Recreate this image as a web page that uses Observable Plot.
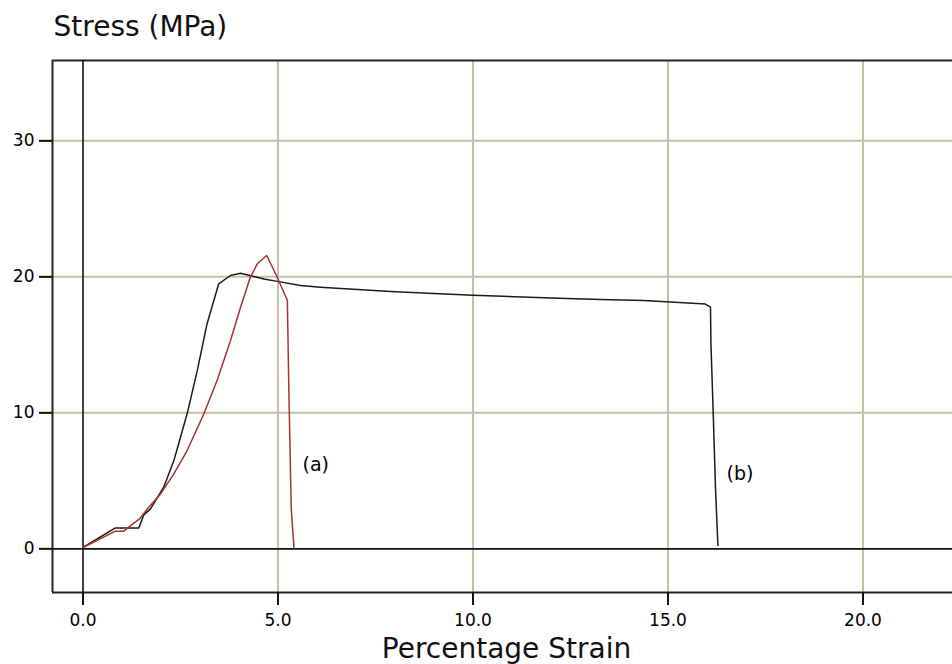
<!DOCTYPE html>
<html>
<head>
<meta charset="utf-8">
<script src="https://cdn.jsdelivr.net/npm/d3@7"></script>
<script src="https://cdn.jsdelivr.net/npm/@observablehq/plot@0.6"></script>
<style>
  html, body { margin: 0; padding: 0; background: #fff; }
  #chart svg { display: block; }
</style>
</head>
<body>
<div id="chart"></div>
<script>
// Curve (a) – red
const strainA = [0, 0.83, 1.05, 1.22, 1.45, 1.65, 1.99, 2.33, 2.67, 3.10, 3.44, 3.78, 4.04, 4.29, 4.47, 4.71, 4.98, 5.24, 5.28, 5.34, 5.41];
const stressA = [0.1, 1.3, 1.3, 1.71, 2.2, 2.94, 4.04, 5.51, 7.23, 9.93, 12.4, 15.3, 17.76, 19.97, 20.96, 21.57, 19.97, 18.26, 11.4, 2.94, 0.05];

// Curve (b) – black
const strainB = [0, 0.83, 1.43, 1.56, 1.73, 2.07, 2.33, 2.67, 2.93, 3.18, 3.48, 3.78, 4.04, 4.64, 5.02, 5.58, 6.09, 8.0, 10.0, 12.0, 13.27, 14.38, 15.4, 15.96, 16.09, 16.1, 16.16, 16.22, 16.28];
const stressB = [0.1, 1.54, 1.54, 2.5, 2.94, 4.53, 6.49, 9.93, 13.1, 16.54, 19.49, 20.1, 20.26, 19.85, 19.65, 19.36, 19.24, 18.9, 18.65, 18.45, 18.33, 18.26, 18.09, 18.0, 17.77, 15.2, 9.93, 4.29, 0.24];

// Curve labels
const labelText = ["(a)", "(b)"];
const labelX = [5.63, 16.5];
const labelY = [6.2, 5.5];

// Ticks / grid
const xTicks = [0, 5, 10, 15, 20];
const yTicks = [0, 10, 20, 30];
const xGrid = [5, 10, 15, 20];
const yGrid = [10, 20, 30];

// Axis extents (plot frame)
const xDomain = [-0.782, 22.295];
const yDomain = [-3.21, 35.91];

const titleText = "Stress (MPa)";
const xLabelText = "Percentage Strain";

const curveA = strainA.map((x, i) => ({x, y: stressA[i]}));
const curveB = strainB.map((x, i) => ({x, y: stressB[i]}));
const labels = labelText.map((t, i) => ({t, x: labelX[i], y: labelY[i]}));

const gridColor = "#c4c0a8";

const chart = Plot.plot({
  width: 952,
  height: 664,
  marginLeft: 52,
  marginRight: 0,
  marginTop: 60,
  marginBottom: 72,
  style: {fontFamily: "DejaVu Sans", fontSize: "17px", background: "#fff", color: "#000"},
  x: {domain: xDomain},
  y: {domain: yDomain},
  marks: [
    // grid
    Plot.ruleX(xGrid, {stroke: gridColor, strokeWidth: 2}),
    Plot.ruleY(yGrid, {stroke: gridColor, strokeWidth: 2}),
    // frame (top, left, bottom; right edge is outside the picture)
    Plot.ruleY([yDomain[1]], {stroke: "#222", strokeWidth: 2}),
    Plot.ruleY([yDomain[0]], {stroke: "#222", strokeWidth: 2}),
    Plot.ruleX([xDomain[0]], {stroke: "#222", strokeWidth: 2}),
    // zero lines
    Plot.ruleX([0], {stroke: "#111", strokeWidth: 1.6}),
    Plot.ruleY([0], {stroke: "#111", strokeWidth: 1.6}),
    // axes
    Plot.axisX({ticks: xTicks, tickFormat: d3.format(".1f"), tickSize: 13, tickPadding: 8, label: null, stroke: "#111", strokeWidth: 2, fill: "#000"}),
    Plot.axisY({ticks: yTicks, tickFormat: d => d3.format("d")(d), tickSize: 13, tickPadding: 5, label: null, stroke: "#111", strokeWidth: 2, fill: "#000"}),
    // curves
    Plot.line(curveB, {x: "x", y: "y", stroke: "#1a1a1a", strokeWidth: 1.5}),
    Plot.line(curveA, {x: "x", y: "y", stroke: "#a83232", strokeWidth: 1.5}),
    // curve labels
    Plot.text(labels, {x: "x", y: "y", text: "t", textAnchor: "start", fontSize: 19, fill: "#000"}),
    // title and axis label
    Plot.text([titleText], {frameAnchor: "top-left", textAnchor: "start", lineAnchor: "bottom", dx: 1, dy: -25, fontSize: 28, fill: "#111"}),
    Plot.text([xLabelText], {frameAnchor: "bottom", textAnchor: "middle", lineAnchor: "bottom", dx: 4, dy: 65, fontSize: 28, fill: "#111"})
  ]
});

document.getElementById("chart").appendChild(chart);
</script>
</body>
</html>
